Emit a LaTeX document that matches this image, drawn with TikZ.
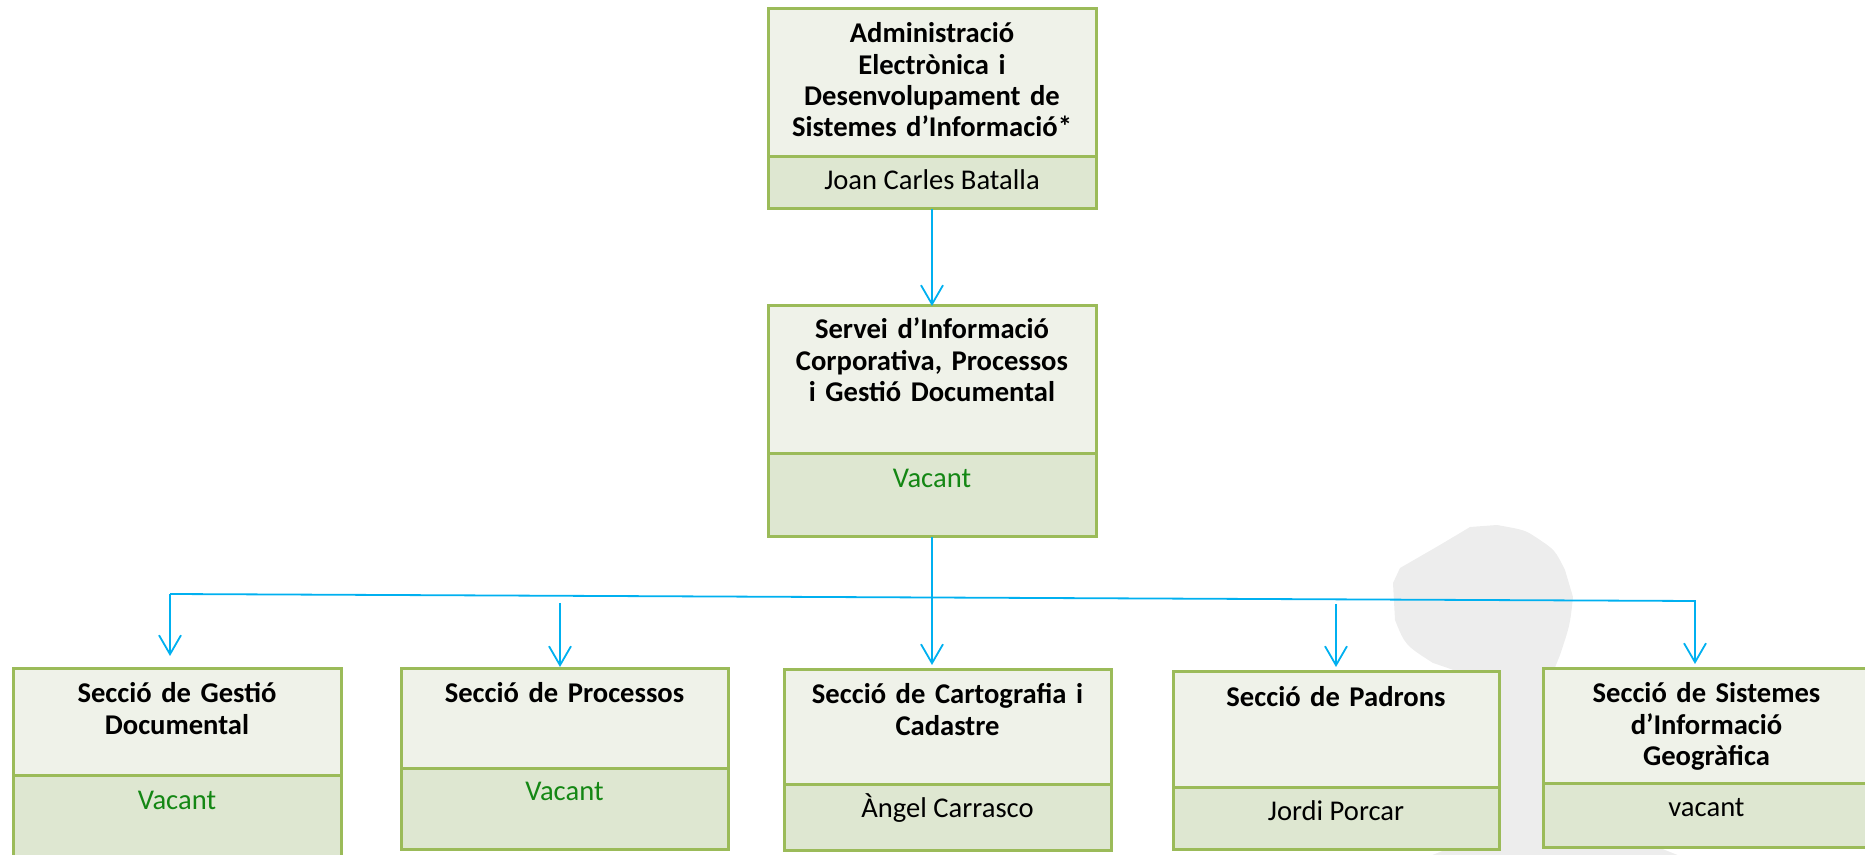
\documentclass[tikz,border=0pt]{standalone}
\usepackage{fontspec}
\setmainfont{Carlito}
\usetikzlibrary{arrows.meta}

\definecolor{boxline}{RGB}{155,187,89}
\definecolor{headfill}{RGB}{239,242,233}
\definecolor{footfill}{RGB}{222,231,209}
\definecolor{linkblue}{RGB}{0,176,240}
\definecolor{vacantgreen}{RGB}{20,135,20}
\definecolor{shadowgray}{RGB}{237,237,237}

\begin{document}
\begin{tikzpicture}[>={Straight Barb[length=9.5pt,width=11pt]},x=0.5pt,y=-0.5pt,
  head/.style={rectangle,draw=boxline,line width=1.5pt,fill=headfill,
    anchor=north west,inner sep=0pt,outer sep=0pt},
  foot/.style={head,fill=footfill},
  headtext/.style={anchor=base,align=center,text width=156pt,inner sep=0pt,
    font=\fontsize{14.3}{15.6}\selectfont\bfseries},
  nametext/.style={anchor=base,inner sep=0pt,font=\fontsize{14.3}{15.6}\selectfont},
  link/.style={draw=linkblue,line width=0.9pt,->}]
  %
  % Frame
  \useasboundingbox (0,0) rectangle (1865,855);
  \clip (0,0) rectangle (1865,855);
  %
  % Grey silhouette behind the boxes
  \fill[shadowgray] (1393,583) -- (1400,568) .. controls (1440,545) .. (1470,527)
    -- (1497,525) .. controls (1525,530) .. (1537,538)
    .. controls (1555,550) .. (1565,570) -- (1573,597)
    .. controls (1570,625) .. (1560,655) .. controls (1550,680) .. (1548,700)
    -- (1548,800) .. controls (1560,830) .. (1640,840) -- (1690,860)
    -- (1420,860) .. controls (1470,840) .. (1495,820) -- (1495,690)
    .. controls (1460,672) .. (1433,663) .. controls (1405,645) .. (1395,620) -- cycle;
  %
  % Top level
  \node[head,minimum width=164pt,minimum height=74pt] (adm) at (768,9) {};
  \node[foot,minimum width=164pt,minimum height=26pt] (adm-f) at (adm.south west) {};
  \node[headtext] (adm-t) at ([yshift=-17pt]adm.north)
    {Administració\\Electrònica i\\Desenvolupament de\\Sistemes d’Informació*};
  \node[nametext] (adm-p) at ([yshift=-16.5pt]adm-f.north) {Joan Carles Batalla};
  %
  % Service
  \node[head,minimum width=164pt,minimum height=74pt] (sic) at (768,306) {};
  \node[foot,minimum width=164pt,minimum height=41.5pt] (sic-f) at (sic.south west) {};
  \node[headtext] (sic-t) at ([yshift=-16.5pt]sic.north)
    {Servei d’Informació\\Corporativa, Processos\\i Gestió Documental};
  \node[nametext,text=vacantgreen] (sic-p) at ([yshift=-17pt]sic-f.north) {Vacant};
  %
  % Sections
  \node[head,minimum width=164pt,minimum height=53pt] (sgd) at (13,669) {};
  \node[foot,minimum width=164pt,minimum height=45pt] (sgd-f) at (sgd.south west) {};
  \node[headtext] (sgd-t) at ([yshift=-17pt]sgd.north) {Secció de Gestió\\Documental};
  \node[nametext,text=vacantgreen] (sgd-p) at ([yshift=-17pt]sgd-f.north) {Vacant};
  %
  \node[head,minimum width=163.5pt,minimum height=49.5pt] (spr) at (401,669) {};
  \node[foot,minimum width=163.5pt,minimum height=40.5pt] (spr-f) at (spr.south west) {};
  \node[headtext] (spr-t) at ([yshift=-17pt]spr.north) {Secció de Processos};
  \node[nametext,text=vacantgreen] (spr-p) at ([yshift=-16pt]spr-f.north) {Vacant};
  %
  \node[head,minimum width=163.5pt,minimum height=57pt] (sca) at (784,670) {};
  \node[foot,minimum width=163.5pt,minimum height=33pt] (sca-f) at (sca.south west) {};
  \node[headtext] (sca-t) at ([yshift=-17pt]sca.north) {Secció de Cartografia i\\Cadastre};
  \node[nametext] (sca-p) at ([yshift=-16.5pt]sca-f.north) {Àngel Carrasco};
  %
  \node[head,minimum width=163pt,minimum height=57.5pt] (spa) at (1173,672) {};
  \node[foot,minimum width=163pt,minimum height=31pt] (spa-f) at (spa.south west) {};
  \node[headtext] (spa-t) at ([yshift=-17pt]spa.north) {Secció de Padrons};
  \node[nametext] (spa-p) at ([yshift=-16.5pt]spa-f.north) {Jordi Porcar};
  %
  \node[head,minimum width=163.5pt,minimum height=57pt] (ssig) at (1543,669) {};
  \node[foot,minimum width=163.5pt,minimum height=32pt] (ssig-f) at (ssig.south west) {};
  \node[headtext] (ssig-t) at ([yshift=-17pt]ssig.north)
    {Secció de Sistemes\\d’Informació\\Geogràfica};
  \node[nametext] (ssig-p) at ([yshift=-16.5pt]ssig-f.north) {vacant};
  %
  % Connectors
  \coordinate (busL) at (170,594);
  \coordinate (busR) at (1695,601);
  \coordinate (spr-in) at (560,603);
  \coordinate (spa-in) at (1336,604);
  \draw[link] (adm-f.south) -- (sic.north);
  \draw[link,shorten >=2.5pt] (sic-f.south) -- (sic-f.south |- sca.north);
  \draw[link,shorten >=6.5pt] (busL) -- (busL |- sgd.north);
  \draw[link,shorten >=2.5pt] (busL) -- (busR) -- (busR |- ssig.north);
  \draw[link,shorten >=1pt] (spr-in) -- (spr-in |- spr.north);
  \draw[link,shorten >=2.5pt] (spa-in) -- (spa-in |- spa.north);
  %
\end{tikzpicture}
\end{document}
